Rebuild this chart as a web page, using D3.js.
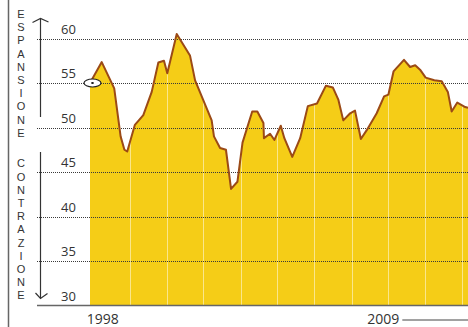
<!DOCTYPE html>
<html>
<head>
<meta charset="utf-8">
<script src="https://cdn.jsdelivr.net/npm/d3@7"></script>
<style>
  html, body { margin: 0; padding: 0; background: #fff; }
  svg { display: block; }
  text { font-family: "Open Sans", "Noto Sans", sans-serif; fill: #333; }
  text.letter { font-family: "Liberation Sans", Arial, sans-serif; }
</style>
</head>
<body>
<svg id="chart" width="468" height="327"></svg>
<script>
// Indice mensile: periodo (anno frazionario) e valore
const periods = [
  1998.00, 1998.46, 1998.95, 1999.20, 1999.35, 1999.46, 1999.76, 2000.09, 2000.42, 2000.68,
  2000.90, 2001.03, 2001.40, 2001.92, 2002.12, 2002.77, 2002.86, 2003.10, 2003.33, 2003.53,
  2003.78, 2003.98, 2004.36, 2004.56, 2004.80, 2004.82, 2005.06, 2005.23, 2005.48, 2005.62,
  2005.93, 2006.24, 2006.54, 2006.90, 2007.25, 2007.52, 2007.74, 2007.93, 2008.20, 2008.39,
  2008.62, 2008.85, 2009.24, 2009.53, 2009.70, 2009.90, 2010.31, 2010.55, 2010.75, 2010.94,
  2011.16, 2011.50, 2011.79, 2012.03, 2012.18, 2012.40, 2012.71, 2012.82
];
const values = [
  55.0, 57.35, 54.4, 49.0, 47.5, 47.3, 50.3, 51.4, 54.0, 57.3,
  57.5, 56.1, 60.5, 58.1, 55.3, 50.8, 49.0, 47.7, 47.5, 43.1,
  43.9, 48.3, 51.8, 51.8, 50.5, 48.8, 49.3, 48.6, 50.2, 48.8,
  46.7, 48.8, 52.4, 52.7, 54.7, 54.5, 53.1, 50.8, 51.6, 51.9,
  48.7, 49.7, 51.6, 53.5, 53.7, 56.3, 57.6, 56.8, 57.0, 56.5,
  55.6, 55.3, 55.2, 54.0, 51.8, 52.8, 52.3, 52.2
];
const yTicks = [30, 35, 40, 45, 50, 55, 60];
const gridPeriods = [1999.55, 2001.01, 2002.43, 2003.91, 2005.33, 2006.78, 2008.27, 2009.69, 2011.14, 2012.59];
const yearLabels = ["1998", "2009"];
const markerValue = 55;
const upLabel = "ESPANSIONE";
const downLabel = "CONTRAZIONE";

const data = periods.map((p, i) => ({ p, v: values[i] }));

const svg = d3.select("#chart");

const x = d3.scaleLinear().domain([1998, 2012.82]).range([90, 468]);
const y = d3.scaleLinear().domain([30, 60]).range([305.5, 38.5]);

// left frame rule
svg.append("line")
  .attr("x1", 8.5).attr("x2", 8.5).attr("y1", 0).attr("y2", 327)
  .attr("stroke", "#666").attr("stroke-width", 1.5);

// filled area
const area = d3.area().x(d => x(d.p)).y0(y(30)).y1(d => y(d.v));
svg.append("path").datum(data)
  .attr("d", area)
  .attr("fill", "#F5CD17");

// pale vertical guides (visible over the fill)
svg.append("g").selectAll("line").data(gridPeriods).join("line")
  .attr("x1", d => Math.round(x(d)) + 0.5).attr("x2", d => Math.round(x(d)) + 0.5)
  .attr("y1", y(60) - 20).attr("y2", y(30))
  .attr("stroke", "rgba(255,255,255,0.5)").attr("stroke-width", 1);

// dotted horizontal gridlines
svg.append("g").selectAll("line").data(yTicks.filter(t => t > 30)).join("line")
  .attr("x1", 37).attr("x2", 468)
  .attr("y1", d => Math.round(y(d)) + 0.5).attr("y2", d => Math.round(y(d)) + 0.5)
  .attr("stroke", "#3a3a3a").attr("stroke-width", 1)
  .attr("stroke-dasharray", "1,1");

// baseline
svg.append("line")
  .attr("x1", 37).attr("x2", 468)
  .attr("y1", y(30)).attr("y2", y(30))
  .attr("stroke", "#666").attr("stroke-width", 1.5);

// tick labels, sitting above each gridline
svg.append("g").selectAll("text").data(yTicks).join("text")
  .attr("x", 68.5).attr("y", d => y(d) - 5)
  .attr("text-anchor", "middle")
  .attr("font-size", 13)
  .text(d => d);

// series line
const line = d3.line().x(d => x(d.p)).y(d => y(d.v));
svg.append("path").datum(data)
  .attr("d", line)
  .attr("fill", "none")
  .attr("stroke", "#9B4A16")
  .attr("stroke-width", 2)
  .attr("stroke-linejoin", "round");

// starting-point marker
const mx = x(periods[0]) + 2.5, my = y(markerValue);
svg.append("ellipse")
  .attr("cx", mx).attr("cy", my).attr("rx", 8.5).attr("ry", 4)
  .attr("fill", "#fff").attr("stroke", "#222").attr("stroke-width", 1.2);
svg.append("ellipse")
  .attr("cx", mx).attr("cy", my).attr("rx", 1.4).attr("ry", 1)
  .attr("fill", "#111");

// direction arrows
const ax = 40.5;
svg.append("line").attr("x1", ax).attr("x2", ax).attr("y1", 18.5).attr("y2", 117)
  .attr("stroke", "#333").attr("stroke-width", 1.2);
svg.append("path").attr("d", `M${ax - 8},22.5 L${ax},18.5 L${ax + 8},22`)
  .attr("fill", "none").attr("stroke", "#333").attr("stroke-width", 1.2);
svg.append("line").attr("x1", ax).attr("x2", ax).attr("y1", 152).attr("y2", 298)
  .attr("stroke", "#333").attr("stroke-width", 1.2);
svg.append("path").attr("d", `M${ax - 5},293 L${ax},298.5 L${ax + 7},293.5`)
  .attr("fill", "none").attr("stroke", "#333").attr("stroke-width", 1.2);

// vertical lettering, one glyph per row
const letterStep = 13.2;
svg.append("g").selectAll("text").data(upLabel.split("")).join("text")
  .attr("class", "letter")
  .attr("x", 21).attr("y", (d, i) => 14 + i * letterStep + 4)
  .attr("text-anchor", "middle").attr("font-size", 11)
  .text(d => d);
svg.append("g").selectAll("text").data(downLabel.split("")).join("text")
  .attr("class", "letter")
  .attr("x", 21).attr("y", (d, i) => 163.3 + i * letterStep + 4)
  .attr("text-anchor", "middle").attr("font-size", 11)
  .text(d => d);

// year labels
svg.append("g").selectAll("text").data(yearLabels).join("text")
  .attr("x", d => x(+d + 0.5)).attr("y", 324)
  .attr("text-anchor", "middle").attr("font-size", 14)
  .text(d => d);

// continuation rule after the last year
svg.append("line")
  .attr("x1", x(+yearLabels[1] + 0.5) + 19).attr("x2", 468)
  .attr("y1", 320).attr("y2", 320)
  .attr("stroke", "#444").attr("stroke-width", 1);
</script>
</body>
</html>
